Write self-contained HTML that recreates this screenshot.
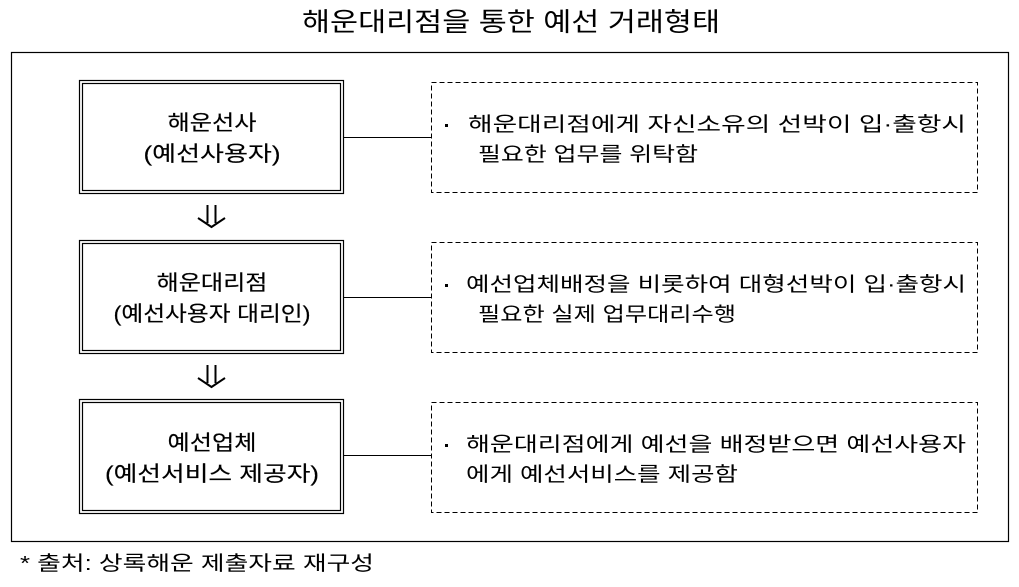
<!DOCTYPE html>
<html><head><meta charset="utf-8"><style>
html,body{margin:0;padding:0;background:#fff;}
svg{display:block;}
text{font-family:"Liberation Sans","Noto Sans CJK KR","NanumGothic",sans-serif;fill:#000;}
</style></head><body>
<svg width="1019" height="587" viewBox="0 0 1019 587" xmlns="http://www.w3.org/2000/svg">
<text x="511" y="31" font-size="26" text-anchor="middle" textLength="418" lengthAdjust="spacingAndGlyphs">해운대리점을 통한 예선 거래형태</text>
<rect x="11.5" y="52.5" width="997" height="489" fill="none" stroke="#000" stroke-width="1.2"/>
<g fill="none" stroke="#000">
<rect x="79.5" y="80.5" width="264" height="113" stroke-width="1.2"/>
<rect x="82.5" y="83.5" width="258" height="107" stroke-width="1.2"/>
<rect x="79.5" y="240.5" width="264" height="113" stroke-width="1.2"/>
<rect x="82.5" y="243.5" width="258" height="107" stroke-width="1.2"/>
<rect x="79.5" y="399.5" width="264" height="114" stroke-width="1.2"/>
<rect x="82.5" y="402.5" width="258" height="108" stroke-width="1.2"/>
<g stroke-dasharray="5,3" stroke-width="1">
<rect x="431.5" y="82.5" width="546" height="110"/>
<rect x="431.5" y="242.5" width="546" height="110"/>
<rect x="431.5" y="402.5" width="546" height="110"/>
</g>
<line x1="343" y1="137.5" x2="431" y2="137.5"/>
<line x1="343" y1="297.5" x2="431" y2="297.5"/>
<line x1="343" y1="455.5" x2="431" y2="455.5"/>
<g stroke-width="2">
<path d="M207.5 205 V223 M215.5 205 V223 M198 218 L211.5 227 L225 218"/>
<path d="M207.5 365 V383 M215.5 365 V383 M198 378 L211.5 387 L225 378"/>
</g>
</g>
<g font-size="21" text-anchor="middle" stroke="#000" stroke-width="0.15">
<text x="212" y="130" textLength="89" lengthAdjust="spacingAndGlyphs">해운선사</text>
<text x="212" y="161" textLength="137" lengthAdjust="spacingAndGlyphs">(예선사용자)</text>
<text x="212" y="290" textLength="111" lengthAdjust="spacingAndGlyphs">해운대리점</text>
<text x="212" y="321" textLength="197" lengthAdjust="spacingAndGlyphs">(예선사용자 대리인)</text>
<text x="212" y="450" textLength="89" lengthAdjust="spacingAndGlyphs">예선업체</text>
<text x="212" y="481" textLength="214" lengthAdjust="spacingAndGlyphs">(예선서비스 제공자)</text>
</g>
<rect x="445" y="124" width="3" height="3" fill="#000"/>
<rect x="445" y="284" width="3" height="3" fill="#000"/>
<rect x="445" y="444" width="3" height="3" fill="#000"/>
<g font-size="20">
<text x="468" y="131" textLength="498" lengthAdjust="spacingAndGlyphs">해운대리점에게 자신소유의 선박이 입·출항시</text>
<text x="478" y="161" textLength="220" lengthAdjust="spacingAndGlyphs">필요한 업무를 위탁함</text>
<text x="466" y="291" textLength="500" lengthAdjust="spacingAndGlyphs">예선업체배정을 비롯하여 대형선박이 입·출항시</text>
<text x="478" y="321" textLength="258" lengthAdjust="spacingAndGlyphs">필요한 실제 업무대리수행</text>
<text x="466" y="451" textLength="500" lengthAdjust="spacingAndGlyphs">해운대리점에게 예선을 배정받으면 예선사용자</text>
<text x="466" y="481" textLength="272" lengthAdjust="spacingAndGlyphs">에게 예선서비스를 제공함</text>
</g>
<text x="20" y="570" font-size="20" textLength="354" lengthAdjust="spacingAndGlyphs">* 출처: 상록해운 제출자료 재구성</text>
</svg>
</body></html>
